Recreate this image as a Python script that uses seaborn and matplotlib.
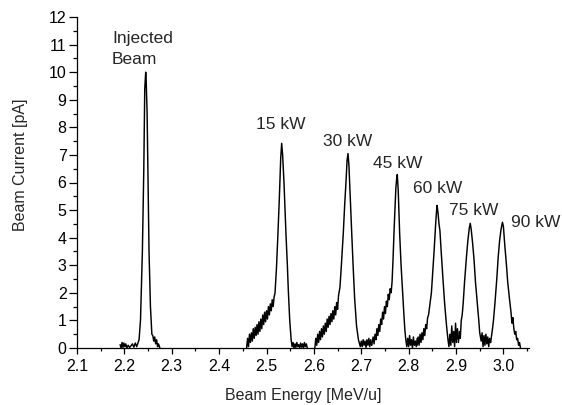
import pandas as pd
import seaborn as sns
import matplotlib.pyplot as plt
from matplotlib.ticker import MultipleLocator


# measured scans, (energy MeV/u, current pA)
injected_beam = [
    (2.191, 0.12), (2.193, 0.0), (2.195, 0.2), (2.197, 0.02), (2.199, 0.18),
    (2.201, 0.05), (2.203, 0.15), (2.205, 0.0), (2.208, 0.1), (2.211, 0.02),
    (2.214, 0.08), (2.217, 0.15), (2.220, 0.03), (2.223, 0.18), (2.226, 0.05),
    (2.229, 0.2), (2.231, 0.3), (2.234, 1.0), (2.238, 3.5), (2.241, 6.5),
    (2.243, 9.4), (2.245, 10.0), (2.246, 9.7), (2.248, 8.5), (2.250, 6.0),
    (2.252, 3.5), (2.255, 1.5), (2.258, 0.5), (2.260, 0.45), (2.262, 0.25),
    (2.264, 0.4), (2.266, 0.15), (2.268, 0.3), (2.270, 0.05), (2.272, 0.15),
    (2.275, 0.0),
]

scan_15kw = [
    (2.458, 0.0), (2.460, 0.35), (2.462, 0.05), (2.464, 0.5), (2.466, 0.2),
    (2.468, 0.55), (2.470, 0.25), (2.472, 0.7), (2.474, 0.35), (2.476, 0.75),
    (2.478, 0.45), (2.480, 0.85), (2.482, 0.5), (2.484, 0.95), (2.486, 0.6),
    (2.488, 1.05), (2.490, 0.7), (2.492, 1.2), (2.494, 0.85), (2.496, 1.3),
    (2.498, 0.95), (2.500, 1.35), (2.502, 1.05), (2.504, 1.5), (2.506, 1.2),
    (2.508, 1.6), (2.510, 1.35), (2.512, 1.75), (2.514, 1.5), (2.516, 1.85),
    (2.518, 2.0), (2.521, 2.9), (2.524, 4.1), (2.527, 5.4), (2.530, 6.9),
    (2.532, 7.42), (2.534, 7.0), (2.537, 5.95), (2.541, 4.15), (2.544, 3.0),
    (2.546, 2.1), (2.549, 1.0), (2.552, 0.3), (2.554, 0.05), (2.556, 0.2),
    (2.558, 0.0), (2.560, 0.15), (2.562, 0.02), (2.564, 0.2), (2.566, 0.05),
    (2.568, 0.12), (2.570, 0.0), (2.572, 0.18), (2.574, 0.03), (2.576, 0.15),
    (2.578, 0.0), (2.580, 0.2), (2.582, 0.05), (2.584, 0.15), (2.586, 0.0),
]

scan_30kw = [
    (2.602, 0.0), (2.604, 0.35), (2.606, 0.1), (2.608, 0.5), (2.610, 0.2),
    (2.612, 0.6), (2.614, 0.3), (2.616, 0.7), (2.618, 0.4), (2.620, 0.8),
    (2.622, 0.5), (2.624, 0.9), (2.626, 0.6), (2.628, 1.05), (2.630, 0.75),
    (2.632, 1.15), (2.634, 0.85), (2.636, 1.25), (2.638, 0.95), (2.640, 1.35),
    (2.642, 1.05), (2.644, 1.5), (2.646, 1.2), (2.648, 1.65), (2.650, 1.4),
    (2.652, 1.9), (2.655, 2.2), (2.658, 3.0), (2.662, 4.15), (2.665, 5.2),
    (2.668, 6.1), (2.670, 6.8), (2.672, 7.05), (2.674, 6.6), (2.677, 5.35),
    (2.680, 4.1), (2.683, 2.9), (2.686, 1.8), (2.690, 0.8), (2.694, 0.3),
    (2.698, 0.05), (2.700, 0.25), (2.702, 0.05), (2.704, 0.3), (2.706, 0.1),
    (2.708, 0.25), (2.710, 0.02), (2.712, 0.3), (2.714, 0.1), (2.716, 0.35),
    (2.718, 0.05), (2.720, 0.3), (2.722, 0.1),
]

scan_45kw = [
    (2.722, 0.1), (2.725, 0.4), (2.727, 0.15), (2.729, 0.5), (2.731, 0.3),
    (2.733, 0.7), (2.735, 0.45), (2.737, 0.85), (2.739, 0.6), (2.741, 1.05),
    (2.743, 0.85), (2.745, 1.3), (2.747, 1.05), (2.749, 1.5), (2.751, 1.25),
    (2.753, 1.7), (2.755, 1.5), (2.757, 1.95), (2.759, 1.75), (2.761, 2.15),
    (2.763, 2.0), (2.765, 2.4), (2.767, 3.2), (2.769, 4.15), (2.771, 5.0),
    (2.773, 5.8), (2.775, 6.2), (2.776, 6.29), (2.778, 5.7), (2.781, 4.15),
    (2.784, 3.0), (2.787, 2.1), (2.790, 1.2), (2.792, 0.65), (2.794, 0.3),
    (2.796, 0.05), (2.798, 0.35), (2.800, 0.05), (2.802, 0.45), (2.804, 0.1),
    (2.806, 0.3), (2.808, 0.0), (2.810, 0.4), (2.812, 0.1), (2.814, 0.25),
    (2.816, 0.05), (2.818, 0.35),
]

scan_60kw = [
    (2.818, 0.1), (2.820, 0.4), (2.822, 0.1), (2.824, 0.5), (2.826, 0.2),
    (2.828, 0.55), (2.830, 0.3), (2.832, 0.7), (2.834, 0.45), (2.836, 0.85),
    (2.838, 0.7), (2.840, 1.1), (2.842, 1.2), (2.845, 1.6), (2.848, 2.0),
    (2.851, 2.8), (2.854, 3.6), (2.857, 4.5), (2.859, 5.0), (2.860, 5.17),
    (2.862, 4.9), (2.864, 4.5), (2.866, 4.26), (2.869, 3.4), (2.873, 2.35),
    (2.876, 1.6), (2.880, 0.8), (2.883, 0.3), (2.885, 0.05), (2.887, 0.5),
    (2.889, 0.1), (2.891, 0.8), (2.893, 0.2), (2.895, 0.6), (2.897, 0.05),
    (2.899, 0.9), (2.901, 0.2), (2.903, 0.7), (2.905, 0.3),
]

scan_75kw = [
    (2.905, 0.2), (2.907, 0.6), (2.909, 0.35), (2.911, 1.0), (2.913, 1.2),
    (2.915, 1.6), (2.918, 2.4), (2.922, 3.3), (2.925, 3.9), (2.928, 4.35),
    (2.930, 4.52), (2.932, 4.3), (2.935, 3.8), (2.938, 3.2), (2.941, 2.4),
    (2.945, 1.6), (2.948, 1.0), (2.950, 0.55), (2.953, 0.25), (2.955, 0.55),
    (2.957, 0.05), (2.959, 0.45), (2.961, 0.1), (2.963, 0.5), (2.965, 0.15),
    (2.967, 0.4), (2.969, 0.05), (2.971, 0.35), (2.973, 0.2),
]

scan_90kw = [
    (2.973, 0.2), (2.975, 0.45), (2.977, 0.7), (2.979, 1.0), (2.982, 1.6),
    (2.986, 2.5), (2.989, 3.3), (2.992, 3.9), (2.995, 4.3), (2.998, 4.56),
    (3.000, 4.4), (3.003, 3.7), (3.006, 3.1), (3.009, 2.4), (3.013, 1.75),
    (3.016, 1.3), (3.018, 0.9), (3.020, 1.1), (3.022, 0.7), (3.024, 0.5),
    (3.026, 0.6), (3.028, 0.3), (3.030, 0.35), (3.032, 0.1), (3.034, 0.2),
    (3.036, 0.0),
]

scans = [injected_beam, scan_15kw, scan_30kw, scan_45kw, scan_60kw, scan_75kw, scan_90kw]

peak_labels = ["15 kW", "30 kW", "45 kW", "60 kW", "75 kW", "90 kW"]
label_pos = [(2.530, 7.93), (2.672, 7.32), (2.777, 6.53), (2.862, 5.62), (2.9365, 4.82), (3.068, 4.40)]

x_ticks = [2.1, 2.2, 2.3, 2.4, 2.5, 2.6, 2.7, 2.8, 2.9, 3.0]
y_ticks = list(range(0, 13))


rows = []
for i, scan in enumerate(scans):
    for e, c in scan:
        rows.append({"energy": e, "current": c, "scan": i})
df = pd.DataFrame(rows)

sns.set_theme(style="ticks")
plt.rcParams['font.family'] = ['Liberation Sans', 'DejaVu Sans']

fig = plt.figure(figsize=(5.62, 4.05), dpi=100)
ax = fig.add_axes([77 / 562, 57 / 405, 452 / 562, 331 / 405])

sns.lineplot(data=df, x="energy", y="current", units="scan", estimator=None,
             sort=False, color="black", linewidth=1.05, ax=ax, legend=False)

ax.set_xlim(2.1, 3.054)
ax.set_ylim(0, 12)
ax.set_xticks(x_ticks)
ax.set_xticklabels([f"{t:.1f}" for t in x_ticks])
ax.set_yticks(y_ticks)
ax.xaxis.set_minor_locator(MultipleLocator(0.05))
ax.yaxis.set_minor_locator(MultipleLocator(0.5))

ax.tick_params(axis="both", which="both", direction="out", colors="black",
               labelsize=11.5, width=0.9)
ax.tick_params(axis="x", which="major", length=4.5, pad=3.5)
ax.tick_params(axis="x", which="minor", length=2.5)
ax.tick_params(axis="y", which="major", length=5.5, pad=2)
ax.tick_params(axis="y", which="minor", length=3)

for side in ["left", "bottom"]:
    ax.spines[side].set_color("black")
    ax.spines[side].set_linewidth(0.9)
sns.despine(ax=ax)

ax.set_xlabel("Beam Energy [MeV/u]", fontsize=11.5)
ax.set_ylabel("Beam Current [pA]", fontsize=11.5)
ax.xaxis.set_label_coords(0.5, -0.121)
ax.yaxis.set_label_coords(-0.1075, 0.553)

ax.text(2.174, 11.06, "Injected", fontsize=12.5, ha="left", va="baseline")
ax.text(2.174, 10.30, "Beam", fontsize=12.5, ha="left", va="baseline")
for lab, (lx, ly) in zip(peak_labels, label_pos):
    ax.text(lx, ly, lab, fontsize=12.5, ha="center", va="baseline")

fig.savefig("out.png", dpi=100)
